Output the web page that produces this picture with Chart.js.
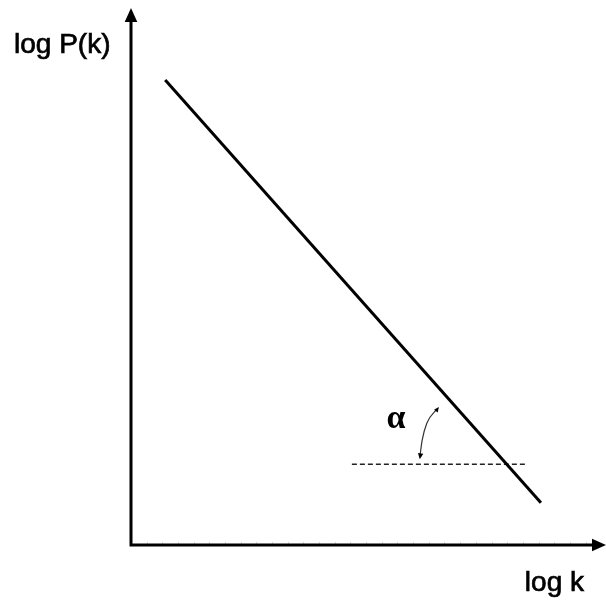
<!DOCTYPE html>
<html>
<head>
<meta charset="utf-8">
<script src="https://cdn.jsdelivr.net/npm/chart.js@4"></script>
<style>
  body { margin: 0; background: #fff; }
  canvas { display: block; }
</style>
</head>
<body>
<canvas id="chart" width="606" height="609"></canvas>
<script>
// Recta de ley de potencia (ejes en unidades arbitrarias 0..100)
const lineK = [7.2, 86.3];
const lineP = [86.9, 7.9];
// Horizontal de referencia (discontinua)
const refK = [46.5, 83.4];
const refP = [15.1, 15.1];
// Flecha curva del ángulo
const arcK = [64.6, 62.3, 61.3, 60.8];
const arcP = [25.6, 22.8, 19.6, 16.4];
// Etiqueta del ángulo
const alphaPos = { k: 55.8, p: 23.6 };
const xLabel = 'log k';
const yLabel = 'log P(k)';

const toPoints = (xs, ys) => xs.map((x, i) => ({ x: x, y: ys[i] }));

function arrowHead(ctx, x, y, angle, size) {
    ctx.save();
    ctx.translate(x, y);
    ctx.rotate(angle);
    ctx.beginPath();
    ctx.moveTo(0, 0);
    ctx.lineTo(-size, -size * 0.45);
    ctx.lineTo(-size, size * 0.45);
    ctx.closePath();
    ctx.fill();
    ctx.restore();
}

const axesPlugin = {
    id: 'axes',
    afterDatasetsDraw(chart) {
        const ctx = chart.ctx;
        const a = chart.chartArea;
        const xs = chart.scales.x, ys = chart.scales.y;
        ctx.save();
        // marcas pequeñas sobre el eje x (muy tenues)
        ctx.strokeStyle = '#d8d8d8';
        ctx.lineWidth = 1;
        for (let v = 3.3; v < 97; v += 3.3) {
            const px = Math.round(xs.getPixelForValue(v)) + 0.5;
            ctx.beginPath();
            ctx.moveTo(px, a.bottom - 3);
            ctx.lineTo(px, a.bottom);
            ctx.stroke();
        }
        ctx.strokeStyle = '#000';
        ctx.fillStyle = '#000';
        ctx.lineWidth = 3;
        ctx.beginPath();
        ctx.moveTo(a.left, a.top + 10);
        ctx.lineTo(a.left, a.bottom);
        ctx.lineTo(a.right - 10, a.bottom);
        ctx.stroke();
        arrowHead(ctx, a.left, a.top - 2, -Math.PI / 2, 14);
        arrowHead(ctx, a.right, a.bottom, 0, 14);

        // flechas de la curva del ángulo
        const p0 = { x: xs.getPixelForValue(arcK[0]), y: ys.getPixelForValue(arcP[0]) };
        const p1 = { x: xs.getPixelForValue(arcK[1]), y: ys.getPixelForValue(arcP[1]) };
        const n = arcK.length;
        const q0 = { x: xs.getPixelForValue(arcK[n - 1]), y: ys.getPixelForValue(arcP[n - 1]) };
        const q1 = { x: xs.getPixelForValue(arcK[n - 2]), y: ys.getPixelForValue(arcP[n - 2]) };
        arrowHead(ctx, q0.x, q0.y + 2, Math.atan2(q0.y - q1.y, q0.x - q1.x), 6);
        arrowHead(ctx, p0.x + 1, p0.y - 1, Math.atan2(p0.y - p1.y, p0.x - p1.x), 5);

        // textos, un poco engrosados como en el original
        ctx.textBaseline = 'middle';
        ctx.lineWidth = 0.7;
        ctx.font = '28px "Liberation Sans", Arial, sans-serif';
        ctx.textAlign = 'left';
        ctx.fillText(yLabel, 14, 45);
        ctx.strokeText(yLabel, 14, 45);
        ctx.textAlign = 'right';
        ctx.fillText(xLabel, 584, 583);
        ctx.strokeText(xLabel, 584, 583);
        ctx.font = 'bold 34px "Liberation Serif", serif';
        ctx.textAlign = 'center';
        ctx.fillText('α', xs.getPixelForValue(alphaPos.k), ys.getPixelForValue(alphaPos.p));
        ctx.restore();
    }
};

const chart = new Chart(document.getElementById('chart').getContext('2d'), {
    type: 'scatter',
    data: {
        datasets: [
            {
                data: toPoints(lineK, lineP),
                showLine: true,
                borderColor: '#000',
                borderWidth: 3,
                pointRadius: 0,
            },
            {
                data: toPoints(refK, refP),
                showLine: true,
                borderColor: '#222',
                borderWidth: 1.5,
                borderDash: [5, 3],
                pointRadius: 0,
            },
            {
                data: toPoints(arcK, arcP),
                showLine: true,
                borderColor: '#333',
                borderWidth: 1.2,
                cubicInterpolationMode: 'monotone',
                pointRadius: 0,
            },
        ],
    },
    options: {
        responsive: false,
        animation: false,
        layout: { padding: { left: 131, right: 0, top: 10, bottom: 64 } },
        plugins: { legend: { display: false }, tooltip: { enabled: false } },
        scales: {
            x: { type: 'linear', min: 0, max: 100, display: false },
            y: { type: 'linear', min: 0, max: 100, display: false },
        },
    },
    plugins: [axesPlugin],
});
</script>
</body>
</html>
